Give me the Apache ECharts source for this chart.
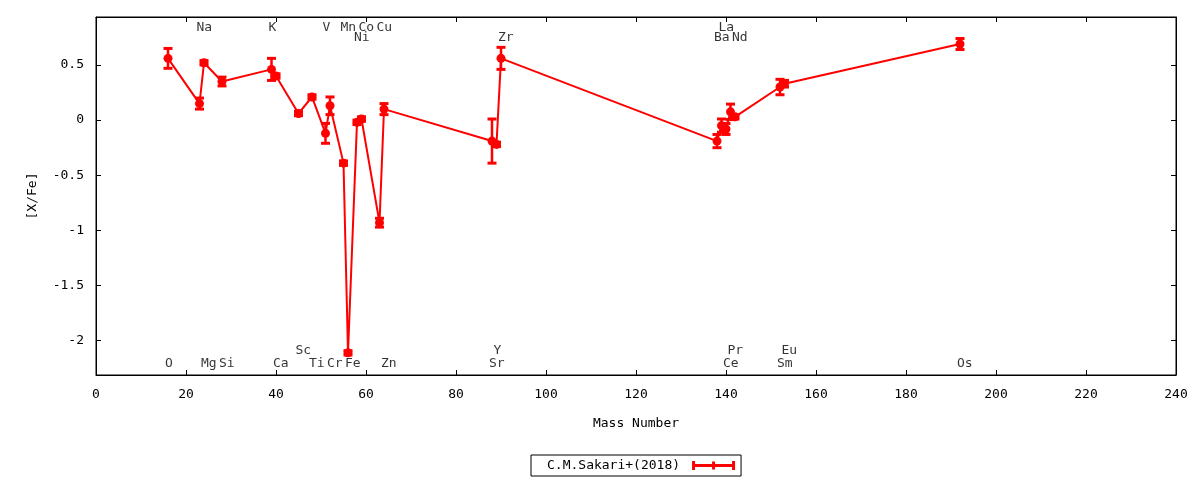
<!DOCTYPE html>
<html>
<head>
<meta charset="utf-8">
<script src="https://cdn.jsdelivr.net/npm/echarts@6/dist/echarts.min.js"></script>
<style>
html,body{margin:0;padding:0;background:#fff;}
#chart{width:1200px;height:480px;}
</style>
</head>
<body>
<div id="chart"></div>
<script>
const elements = ['O','Na','Mg','Si','K','Ca','Sc','Ti','V','Cr','Mn','Fe','Ni','Co','Cu','Zn','Sr','Y','Zr','Ba','La','Ce','Pr','Nd','Sm','Eu','Os'];
const massNumbers = [16,23,24,28,39,40,45,48,51,52,55,56,58,59,63,64,88,89,90,138,139,140,141,142,152,153,192];
const abundance = [0.56,0.15,0.52,0.35,0.46,0.40,0.06,0.21,-0.12,0.13,-0.39,-2.11,-0.02,0.01,-0.93,0.10,-0.19,-0.22,0.56,-0.19,-0.05,-0.08,0.075,0.03,0.30,0.33,0.69];
const abundanceErr = [0.09,0.05,0.02,0.04,0.10,0.02,0.02,0.02,0.09,0.08,0.02,0.02,0.02,0.02,0.04,0.05,0.20,0.02,0.10,0.06,0.06,0.05,0.07,0.02,0.07,0.03,0.05];
// label row per element: 0 top, 1 second, 2 lower, 3 bottom
const labelRow = [3,0,3,3,0,3,2,3,0,3,0,3,1,0,0,3,3,2,1,1,0,3,2,1,3,2,3];
const labelRowY = [0.84,0.745,-2.09,-2.21];
const xTickStep = 20;
const yTickValues = [-2,-1.5,-1,-0.5,0,0.5];
const seriesName = 'C.M.Sakari+(2018)';

const FONT = 'DejaVu Sans Mono';
const RED = '#ff0000';
const X_MIN = 0, X_MAX = 240, Y_MIN = -2.311, Y_MAX = 0.935;

const lineData = massNumbers.map((m,i)=>[m, abundance[i]]);
const errData = massNumbers.map((m,i)=>[m, abundance[i]-abundanceErr[i], abundance[i]+abundanceErr[i]]);
const labelData = elements.map((e,i)=>[massNumbers[i], labelRowY[labelRow[i]], e]);

function renderErr(params, api){
  const x = api.value(0), lo = api.value(1), hi = api.value(2);
  const a = api.coord([x, lo]), b = api.coord([x, hi]);
  const hw = 4.5;
  const s1 = {stroke: RED, lineWidth: 2.5};
  const s2 = {stroke: RED, lineWidth: 3};
  return {type:'group', children:[
    {type:'line', shape:{x1:a[0],y1:a[1],x2:b[0],y2:b[1]}, style:s1},
    {type:'line', shape:{x1:a[0]-hw,y1:a[1],x2:a[0]+hw,y2:a[1]}, style:s2},
    {type:'line', shape:{x1:b[0]-hw,y1:b[1],x2:b[0]+hw,y2:b[1]}, style:s2}
  ]};
}

const chart = echarts.init(document.getElementById('chart'), null, {renderer:'canvas'});
const axisLineStyle = {color:'#000', width:1};
chart.setOption({
  animation:false,
  backgroundColor:'#fff',
  textStyle:{fontFamily:FONT},
  grid:{left:96, top:17, width:1080, height:358, show:true, borderColor:'#000', borderWidth:1, backgroundColor:'transparent'},
  legend:{
    data:[{name:seriesName, icon:'path://M0,0h3v9h-3z M40,0h3v9h-3z M20,0.5h3v8h-3z M0,3h43v3h-43z'}],
    left:531, top:455, align:'right',
    padding:[4,6,4,16], itemWidth:43, itemHeight:9,
    borderColor:'#000', borderWidth:1, backgroundColor:'#fff', borderRadius:0,
    textStyle:{fontFamily:FONT, fontSize:13, color:'#000', padding:[0,7,0,0]}
  },
  xAxis:[
    {type:'value', min:X_MIN, max:X_MAX, interval:xTickStep, position:'bottom',
     name:'Mass Number', nameLocation:'middle', nameGap:42,
     nameTextStyle:{fontFamily:FONT, fontSize:13, color:'#000'},
     axisLine:{show:true, onZero:false, lineStyle:axisLineStyle},
     axisTick:{show:true, inside:true, length:5, lineStyle:axisLineStyle},
     axisLabel:{fontFamily:FONT, fontSize:13, color:'#000', margin:13},
     splitLine:{show:false}},
    {type:'value', min:X_MIN, max:X_MAX, interval:xTickStep, position:'top',
     axisLine:{show:true, onZero:false, lineStyle:axisLineStyle},
     axisTick:{show:true, inside:true, length:5, lineStyle:axisLineStyle},
     axisLabel:{show:false}, splitLine:{show:false}}
  ],
  yAxis:[
    {type:'value', min:Y_MIN, max:Y_MAX, position:'left',
     name:'[X/Fe]', nameLocation:'middle', nameGap:57, nameRotate:90,
     nameTextStyle:{fontFamily:FONT, fontSize:13, color:'#000'},
     axisLine:{show:true, onZero:false, lineStyle:axisLineStyle},
     axisTick:{show:true, inside:true, length:5, lineStyle:axisLineStyle, customValues:yTickValues},
     axisLabel:{fontFamily:FONT, fontSize:13, color:'#000', margin:12, customValues:yTickValues,
       formatter:(v)=>String(v)},
     splitLine:{show:false}},
    {type:'value', min:Y_MIN, max:Y_MAX, position:'right',
     axisLine:{show:true, onZero:false, lineStyle:axisLineStyle},
     axisTick:{show:true, inside:true, length:5, lineStyle:axisLineStyle, customValues:yTickValues},
     axisLabel:{show:false, customValues:yTickValues}, splitLine:{show:false}}
  ],
  series:[
    {type:'custom', name:'errors', renderItem:renderErr, data:errData,
     encode:{x:0, y:[1,2]}, xAxisIndex:0, yAxisIndex:0, z:3, silent:true},
    {type:'line', name:seriesName, data:lineData, xAxisIndex:0, yAxisIndex:0,
     symbol:'circle', symbolSize:9, showSymbol:true,
     itemStyle:{color:RED}, lineStyle:{color:RED, width:2}, z:4, silent:true},
    {type:'scatter', name:'labels', data:labelData, xAxisIndex:0, yAxisIndex:0,
     symbolSize:1, itemStyle:{color:'transparent'}, silent:true, z:5,
     label:{show:true, position:'inside', align:'left', verticalAlign:'middle', offset:[-3,0],
       formatter:(p)=>p.data[2], fontFamily:FONT, fontSize:13, color:'#000'}}
  ]
});
</script>
</body>
</html>
